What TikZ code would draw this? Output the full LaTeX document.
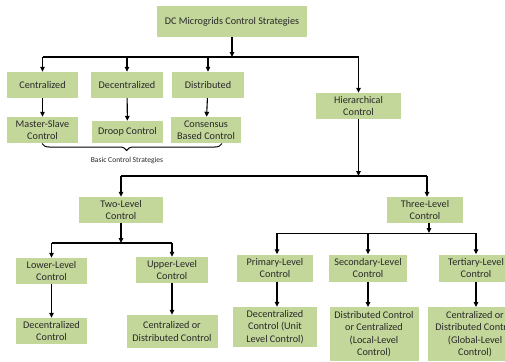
\documentclass[tikz,border=0pt]{standalone}
\usepackage{fontspec}
\setmainfont{Carlito}
\usetikzlibrary{arrows.meta,decorations.pathreplacing}
\definecolor{boxgreen}{RGB}{196,215,155}
\definecolor{inkgray}{RGB}{40,40,40}
\begin{document}
\begin{tikzpicture}[x=1pt,y=-1pt,
  box/.style={fill=boxgreen,draw=none,align=center,inner sep=1pt,
    text=inkgray,font=\fontsize{10.2}{12.3}\selectfont},
  arr/.style={line width=1.1pt,-{Triangle[length=5pt,width=4.6pt]}},
  mainbar/.style={line width=1.8pt},
  midbar/.style={line width=1.4pt},
  thinbar/.style={line width=0.9pt},
  note/.style={font=\fontsize{7.6}{9}\selectfont,text=inkgray}]
\useasboundingbox (0,0) rectangle (505,361);
\clip (0,0) rectangle (505,361);

% top level
\node[box,minimum width=150pt,minimum height=31pt] (top) at (232,21.5) {DC Microgrids Control Strategies};

% first row of strategies
\node[box,minimum width=71pt,minimum height=26pt] (cent) at (42.5,85) {Centralized};
\node[box,minimum width=72pt,minimum height=26pt] (decent) at (127,85) {Decentralized};
\node[box,minimum width=72pt,minimum height=26pt] (dist) at (208,85) {Distributed};
\node[box,minimum width=85pt,minimum height=26pt] (hier) at (358.5,106) {Hierarchical\\Control};

% basic control methods
\node[box,minimum width=71pt,minimum height=26pt] (ms) at (42.5,130) {Master-Slave\\Control};
\node[box,minimum width=71pt,minimum height=22pt] (droop) at (127.5,132) {Droop Control};
\node[box,minimum width=70pt,minimum height=26pt] (cons) at (206,130) {Consensus\\Based Control};

% hierarchical levels
\node[box,minimum width=84pt,minimum height=26pt] (two) at (121,210) {Two-Level\\Control};
\node[box,minimum width=76pt,minimum height=26pt] (three) at (425,210) {Three-Level\\Control};

% two-level branch
\node[box,minimum width=71pt,minimum height=26pt] (lower) at (51.5,271) {Lower-Level\\Control};
\node[box,minimum width=72pt,minimum height=26pt] (upper) at (172,270) {Upper-Level\\Control};
\node[box,minimum width=71pt,minimum height=26pt] (dcl) at (51.5,331) {Decentralized\\Control};
\node[box,minimum width=91pt,minimum height=33pt] (cdc) at (172,331.5) {Centralized or\\Distributed Control};

% three-level branch
\node[box,minimum width=76pt,minimum height=27pt] (prim) at (275,268) {Primary-Level\\Control};
\node[box,minimum width=78pt,minimum height=27pt] (sec) at (368,268) {Secondary-Level\\Control};
\node[box,minimum width=74pt,minimum height=27pt] (tert) at (476,268) {Tertiary-Level\\Control};
\node[box,minimum width=84pt,minimum height=40pt] (unit) at (275,327) {Decentralized\\Control (Unit\\Level Control)};
\node[box,minimum width=89pt,minimum height=54pt,anchor=north] (local) at (374,307) {Distributed Control\\or Centralized\\(Local-Level\\Control)};
\node[box,minimum width=94pt,minimum height=54pt,anchor=north] (global) at (475,307) {Centralized or\\Distributed Control\\(Global-Level\\Control)};

% bus lines
\coordinate (b1L) at (42.5,57);
\coordinate (b1R) at (358.5,57);
\coordinate (b2L) at (121,176);
\coordinate (b2R) at (427,176);
\coordinate (b3L) at (51.5,243);
\coordinate (b3R) at (172,243);
\coordinate (b4L) at (277,233);
\coordinate (b4R) at (476,233);

\draw[mainbar] (b1L) -- (b1R);
\draw[mainbar] (b2L) -- (b2R);
\draw[midbar] (b3L) -- (b3R);
\draw[thinbar] (b4L) -- (b4R);

% connectors from the root
\draw[arr] (top.south) -- (top.south |- b1L);
\draw[arr] (b1L) -- (cent.north);
\draw[arr] (decent.north |- b1L) -- (decent.north);
\draw[arr] (dist.north |- b1L) -- (dist.north);
\draw[arr] (b1R) -- (hier.north);

\draw[arr] (cent) -- (ms);
\draw[arr] (decent) -- (droop);
\draw[arr] (dist) -- (cons);

% hierarchical branch
\draw[arr] (hier.south) -- (hier.south |- b2L);
\draw[arr] (b2L) -- (two.north);
\draw[arr] ([xshift=2pt]three.north |- b2R) -- ([xshift=2pt]three.north);

\draw[arr] (two.south) -- (two.south |- b3L);
\draw[arr] (b3L) -- (lower.north);
\draw[arr] (b3R) -- (upper.north);
\draw[arr] (lower) -- (dcl);
\draw[arr] (upper) -- (cdc);

\draw[arr] ([xshift=4pt]three.south) -- ([xshift=4pt]three.south |- b4L);
\draw[arr] (b4L) -- (b4L |- prim.north);
\draw[arr] (sec.north |- b4L) -- (sec.north);
\draw[arr] (b4R) -- (tert.north);
\draw[arr] (b4L |- prim.south) -- (b4L |- unit.north);
\draw[arr] (sec.south) -- (sec.south |- local.north);
\draw[arr] (tert.south) -- (tert.south |- global.north);

% brace under the basic strategies
\coordinate (brL) at (42,143.5);
\coordinate (brR) at (222,143.5);
\draw[line width=1pt,decorate,decoration={brace,mirror,amplitude=7pt,aspect=0.47}] (brL) -- (brR);
\node[note] (basic) at (127,160.5) {Basic Control Strategies};
\end{tikzpicture}
\end{document}
